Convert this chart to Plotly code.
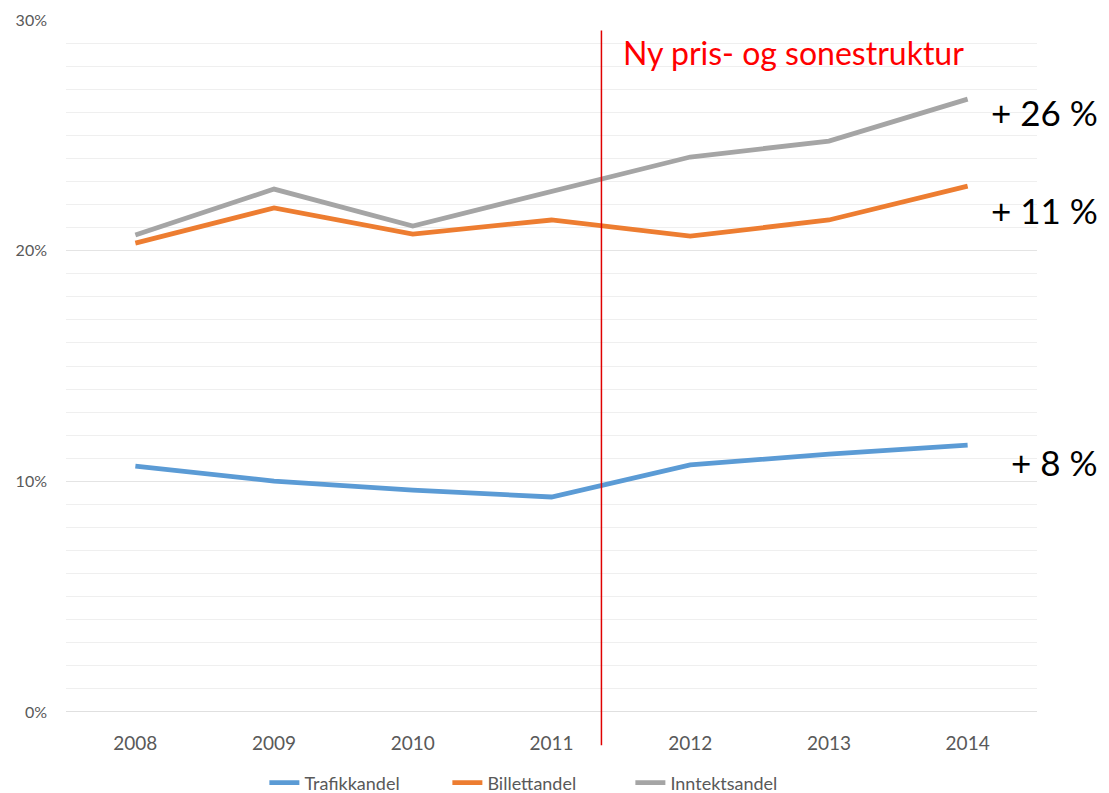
import plotly.graph_objects as go

years = ["2008", "2009", "2010", "2011", "2012", "2013", "2014"]
trafikkandel = [10.66, 10.01, 9.62, 9.32, 10.71, 11.18, 11.57]
billettandel = [20.33, 21.85, 20.72, 21.33, 20.63, 21.33, 22.80]
inntektsandel = [20.68, 22.67, 21.07, 22.54, 24.06, 24.75, 26.57]
series_names = ["Trafikkandel", "Billettandel", "Inntektsandel"]
colors = ["#5B9BD5", "#ED7D31", "#A5A5A5"]
y_ticks = [0, 10, 20, 30]
y_labels = ["0%", "10%", "20%", "30%"]
change_labels = ["+ 8 %", "+ 11 %", "+ 26 %"]
change_pos = [10.84, 21.76, 26.0]
event_text = "Ny pris- og sonestruktur"

FONT = "Lato, 'Open Sans', sans-serif"

fig = go.Figure()
for name, vals, col in zip(series_names, [trafikkandel, billettandel, inntektsandel], colors):
    fig.add_trace(go.Scatter(
        x=years, y=vals, name=name, mode="lines",
        line=dict(color=col, width=4.8),
    ))

fig.update_layout(
    width=1101, height=785,
    margin=dict(l=58, r=72, t=12, b=81, autoexpand=False),
    plot_bgcolor="white", paper_bgcolor="white",
    font=dict(family=FONT, color="#595959"),
    showlegend=True,
    legend=dict(orientation="h", x=0.487, xanchor="center", y=-0.1026, yanchor="middle",
                font=dict(size=18, color="#595959"), traceorder="normal",
                itemwidth=30, entrywidth=138, entrywidthmode="pixels"),
)
fig.update_xaxes(
    type="category", range=[-0.5, 6.5], showgrid=False, showline=False,
    zeroline=False, ticks="", tickfont=dict(size=19, color="#595959"),
    ticklabelstandoff=18, automargin=False,
)
fig.update_yaxes(
    range=[0, 30], tickvals=y_ticks, ticktext=y_labels,
    showgrid=True, gridcolor="#E4E4E4", gridwidth=1,
    zeroline=False, showline=False, ticks="",
    tickfont=dict(size=16, color="#595959"), ticklabelstandoff=18,
    minor=dict(dtick=1, showgrid=True, gridcolor="#EFEFEF", gridwidth=1),
    automargin=False,
)
# baseline
fig.add_shape(type="line", xref="paper", yref="y", x0=0, x1=1, y0=0, y1=0,
              line=dict(color="#D6D6D6", width=1.5), layer="below")
# event line
fig.add_shape(type="line", xref="x", yref="paper", x0=3.36, x1=3.36, y0=-0.048, y1=0.985,
              line=dict(color="#E00000", width=1.5))
fig.add_annotation(x=3.5, y=28.6, xref="x", yref="y", text=event_text, showarrow=False,
                   xanchor="left", yanchor="middle",
                   font=dict(size=32, color="#FF0000", family=FONT))
for lab, pos in zip(change_labels, change_pos):
    fig.add_annotation(x=1.065, y=pos, xref="paper", yref="y", text=lab, showarrow=False,
                       xanchor="right", yanchor="middle",
                       font=dict(size=35, color="#000000", family=FONT))

fig.write_html("out.html")
